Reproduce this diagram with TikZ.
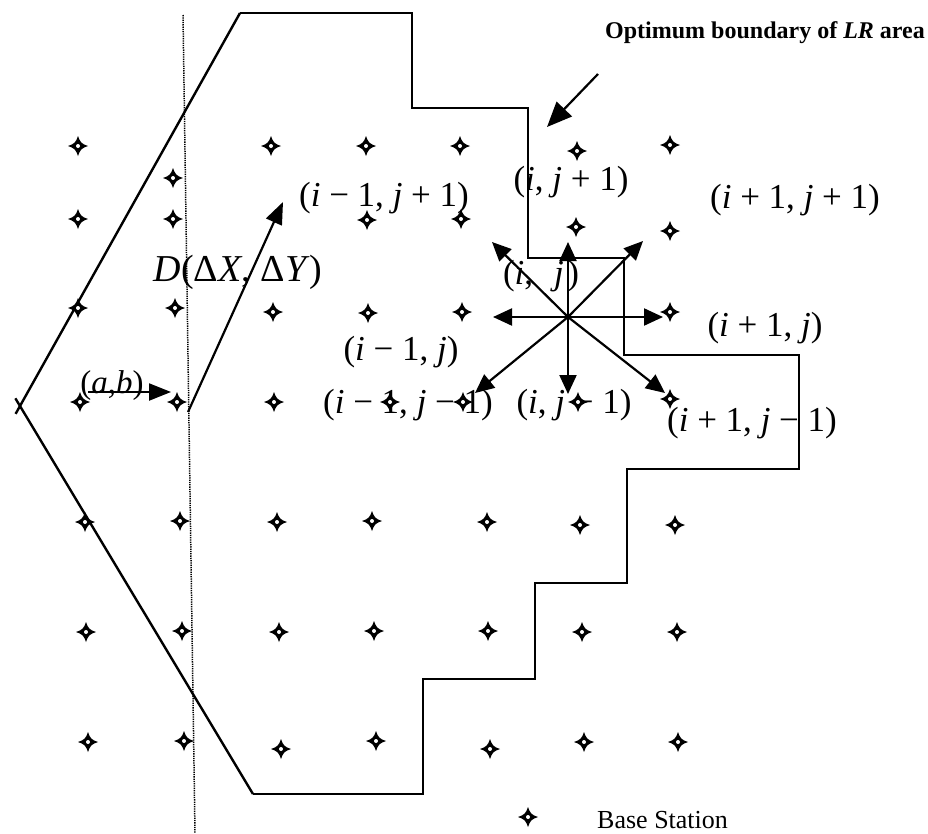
\documentclass[tikz,border=0pt]{standalone}
\usepackage{fontspec}
\setmainfont{Liberation Serif}
\usetikzlibrary{arrows.meta,calc}
\tikzset{
  bsstar/.pic={
    \fill (10pt,0pt) .. controls (3.5pt,2.2pt) and (2.2pt,3.5pt) .. (0pt,10pt)
      .. controls (-2.2pt,3.5pt) and (-3.5pt,2.2pt) .. (-10pt,0pt)
      .. controls (-3.5pt,-2.2pt) and (-2.2pt,-3.5pt) .. (0pt,-10pt)
      .. controls (2.2pt,-3.5pt) and (3.5pt,-2.2pt) .. cycle;
    \fill[white] (0pt,0pt) circle (2pt);
  },
  lbl/.style={inner sep=0pt, font=\fontsize{35}{40}\selectfont},
  bound/.style={line width=2pt, line join=miter},
  diag/.style={line width=2.4pt},
  dirarrow/.style={line width=2.2pt, -{Triangle[length=19pt,width=17pt]}},
  bigarrow/.style={line width=2.2pt, -{Triangle[length=22pt,width=17pt]}},
}
\begin{document}
\begin{tikzpicture}[x=1pt,y=-1pt]
\useasboundingbox (0,0) rectangle (928,833);

% dotted reference line
\coordinate (dt) at (183,15);
\coordinate (db) at (195,833);
\draw[line width=1.5pt, dash pattern=on 1.3pt off 1pt] (dt) -- (db);

% boundary of LR area
\coordinate (A) at (20,406);
\coordinate (P1) at (240,13);
\coordinate (P2) at (412,13);
\coordinate (P3) at (412,108);
\coordinate (P4) at (528,108);
\coordinate (P5) at (528,258);
\coordinate (P6) at (624,258);
\coordinate (P7) at (624,355);
\coordinate (P8) at (799,355);
\coordinate (P9) at (799,469);
\coordinate (P10) at (627,469);
\coordinate (P11) at (627,583);
\coordinate (P12) at (535,583);
\coordinate (P13) at (535,679);
\coordinate (P14) at (423,679);
\coordinate (P15) at (423,794);
\coordinate (P16) at (253,794);
\draw[bound] (P1) -- (P2) -- (P3) -- (P4) -- (P5) -- (P6) -- (P7) -- (P8) -- (P9)
  -- (P10) -- (P11) -- (P12) -- (P13) -- (P14) -- (P15) -- (P16);
\draw[diag] ($(A)!-9pt!(P1)$) -- (P1);
\draw[diag] ($(A)!-9pt!(P16)$) -- (P16);

% labels
\node[lbl] (lij1m) at (384,198) {(\textit{i} − 1, \textit{j} + 1)};
\node[lbl] (lij1) at (571,182) {(\textit{i}, \textit{j} + 1)};
\node[lbl] (lij1p) at (795,200) {(\textit{i} + 1, \textit{j} + 1)};
\node[lbl] (lij) at (541,276) {(\textit{i},\hspace{0.6em}\textit{j}\hspace{0.1em})};
\node[lbl] (lip) at (765,328) {(\textit{i} + 1, \textit{j})};
\node[lbl] (lim) at (401,352) {(\textit{i} − 1, \textit{j})};
\node[lbl] (limm) at (408,405) {(\textit{i} − 1, \textit{j} − 1)};
\node[lbl] (lijm) at (574,405) {(\textit{i}, \textit{j} − 1)};
\node[lbl] (lipm) at (752,423) {(\textit{i} + 1, \textit{j} − 1)};
\node[inner sep=0pt, font=\fontsize{38}{42}\selectfont] (ld) at (238,272)
  {\textit{D}(Δ\textit{X}, Δ\textit{Y})};
\node[inner sep=0pt, font=\fontsize{33}{38}\selectfont] (lab) at (112,386)
  {(\textit{a},\textit{b})};
\node[inner sep=0pt, font=\fontsize{24}{28}\selectfont\bfseries, anchor=base] (title)
  at (765,38) {Optimum boundary of \textit{LR} area};
\node[inner sep=0pt, font=\fontsize{26}{30}\selectfont, anchor=base west] (legend)
  at (597,828) {Base Station};

% base stations
\foreach \p in {(78,146),(271,146),(366,146),(460,146),(577,151),(670,145),
  (173,178),
  (78,219),(173,219),(367,220),(461,219),(576,227),(670,231),
  (78,308),(175,308),(273,312),(368,313),(462,312),(670,312),
  (80,402),(177,402),(274,402),(390,402),(463,402),(578,402),(670,399),
  (85,522),(180,521),(277,522),(372,521),(487,522),(580,525),(675,525),
  (86,632),(182,631),(279,632),(374,631),(488,631),(582,632),(677,632),
  (88,742),(184,741),(281,749),(376,741),(490,749),(584,742),(678,742),
  (528,817)}
  \pic at \p {bsstar};

% (a,b) arrow and D arrow
\coordinate (ab0) at (88,392);
\coordinate (ab1) at (171,392);
\draw[bigarrow] (ab0) -- (ab1);
\coordinate (d0) at (188,412);
\coordinate (d1) at (283,202);
\draw[bigarrow] (d0) -- (d1);

% optimum boundary pointer
\coordinate (ot) at (598,74);
\coordinate (ob) at (547,127);
\draw[line width=2.2pt, -{Triangle[length=25pt,width=21pt]}] (ot) -- (ob);

% eight direction arrows
\coordinate (c) at (568,317);
\coordinate (tu) at (568,242);
\coordinate (tul) at (492,242);
\coordinate (tur) at (643,241);
\coordinate (tl) at (493,317);
\coordinate (tr) at (663,317);
\coordinate (td) at (568,394);
\coordinate (tdl) at (475,393);
\coordinate (tdr) at (665,393);
\foreach \t in {tu,tul,tur,tl,tr,td,tdl,tdr}
  \draw[dirarrow] (c) -- (\t);
\end{tikzpicture}
\end{document}
